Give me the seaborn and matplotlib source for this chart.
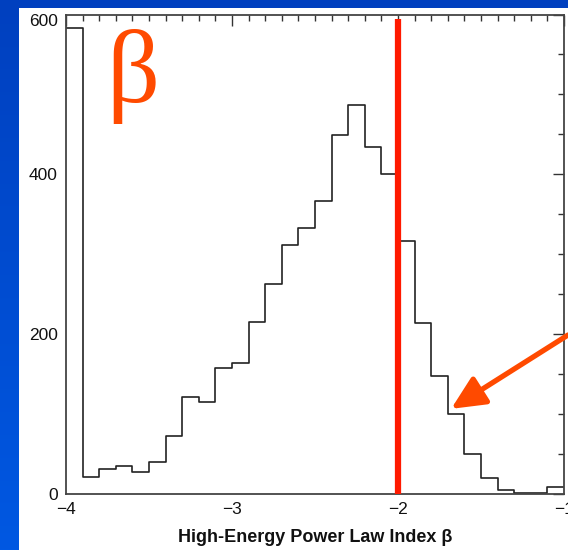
import numpy as np
import pandas as pd
import matplotlib
matplotlib.use("Agg")
import matplotlib.pyplot as plt
from matplotlib.colors import LinearSegmentedColormap
from matplotlib.patches import Rectangle
import seaborn as sns

# ---- data ----
bin_edges = [round(-4.0 + 0.1 * i, 1) for i in range(31)]
counts = [583, 21, 31, 34, 27, 40, 72, 121, 114, 157,
          164, 215, 263, 311, 332, 366, 449, 487, 434, 400,
          316, 214, 147, 100, 50, 20, 4, 1, 1, 8]
x_ticks = [-4, -3, -2, -1]
y_ticks = [0, 200, 400, 600]
x_label = "High-Energy Power Law Index β"
marker_value = -2.0
arrow_tip = (-1.68, 106)

centers = [(bin_edges[i] + bin_edges[i + 1]) / 2 for i in range(len(counts))]
df = pd.DataFrame({"beta": centers, "n": counts})

sns.set_theme(style="white")
plt.rcParams["font.family"] = ["Liberation Sans", "DejaVu Sans"]

W, H = 568, 550
fig = plt.figure(figsize=(W / 100, H / 100), dpi=100)

# blue gradient background
bg = fig.add_axes([0, 0, 1, 1], zorder=-10)
grad = np.linspace(0, 1, 256).reshape(-1, 1)
cmap = LinearSegmentedColormap.from_list("bl", ["#0040bf", "#0058e2"])
bg.imshow(grad, aspect="auto", cmap=cmap, extent=[0, 1, 0, 1], origin="upper")
bg.set_xlim(0, 1); bg.set_ylim(0, 1)
bg.axis("off")
bg.add_patch(Rectangle((19 / W, 0), 1 - 19 / W, 1 - 8 / H,
                       facecolor="white", edgecolor="none"))

ax = fig.add_axes([66 / W, 1 - 493.5 / H, (564 - 66) / W, (493.5 - 14.5) / H])
ax.set_facecolor("white")
sns.histplot(data=df, x="beta", weights="n", bins=bin_edges, element="step",
             fill=False, color="#222222", linewidth=1.2, ax=ax)

ax.set_xlim(-4, -1)
ax.set_ylim(0, 600)
ax.set_xticks(x_ticks)
ax.set_xticklabels(["\u22124", "\u22123", "\u22122", "\u22121"])
ax.set_yticks(y_ticks)
ax.set_xticks(np.arange(-4, -0.95, 0.1), minor=True)
ax.set_yticks(np.arange(0, 601, 50), minor=True)
ax.tick_params(which="major", direction="in", length=8, width=1, color="#333333",
               top=True, right=True, labelsize=12.5, labelcolor="#111111")
ax.tick_params(which="minor", direction="in", length=4, width=1, color="#333333",
               top=True, right=True)
ax.tick_params(axis="x", which="major", pad=6)
ax.tick_params(axis="y", which="major", pad=6)
ylabels = ax.get_yticklabels()
ylabels[-1].set_verticalalignment("top")
for s in ax.spines.values():
    s.set_color("#444444")
    s.set_linewidth(1.3)
ax.set_ylabel("")
ax.set_xlabel(x_label, fontsize=13, fontweight="bold",
              labelpad=9, color="#111111")

# red vertical marker
ax.plot([marker_value, marker_value], [0, 594], color="#ff1a00", linewidth=4.5,
        solid_capstyle="butt", zorder=5)

# beta symbol
ax.text(-3.76, 600 * 0.97, "β", fontsize=75, color="#ff4a00",
        family=["Liberation Serif", "DejaVu Serif"], va="top", ha="left")

# arrow
ax.annotate("", xy=arrow_tip, xytext=(1.0, 1 - 335 / H), textcoords="figure fraction",
            xycoords="data",
            arrowprops=dict(arrowstyle="-|>,head_length=1.7,head_width=0.8",
                            color="#ff4a00", lw=3.8, shrinkA=0, shrinkB=0),
            annotation_clip=False)

fig.savefig("out.png", dpi=100)
